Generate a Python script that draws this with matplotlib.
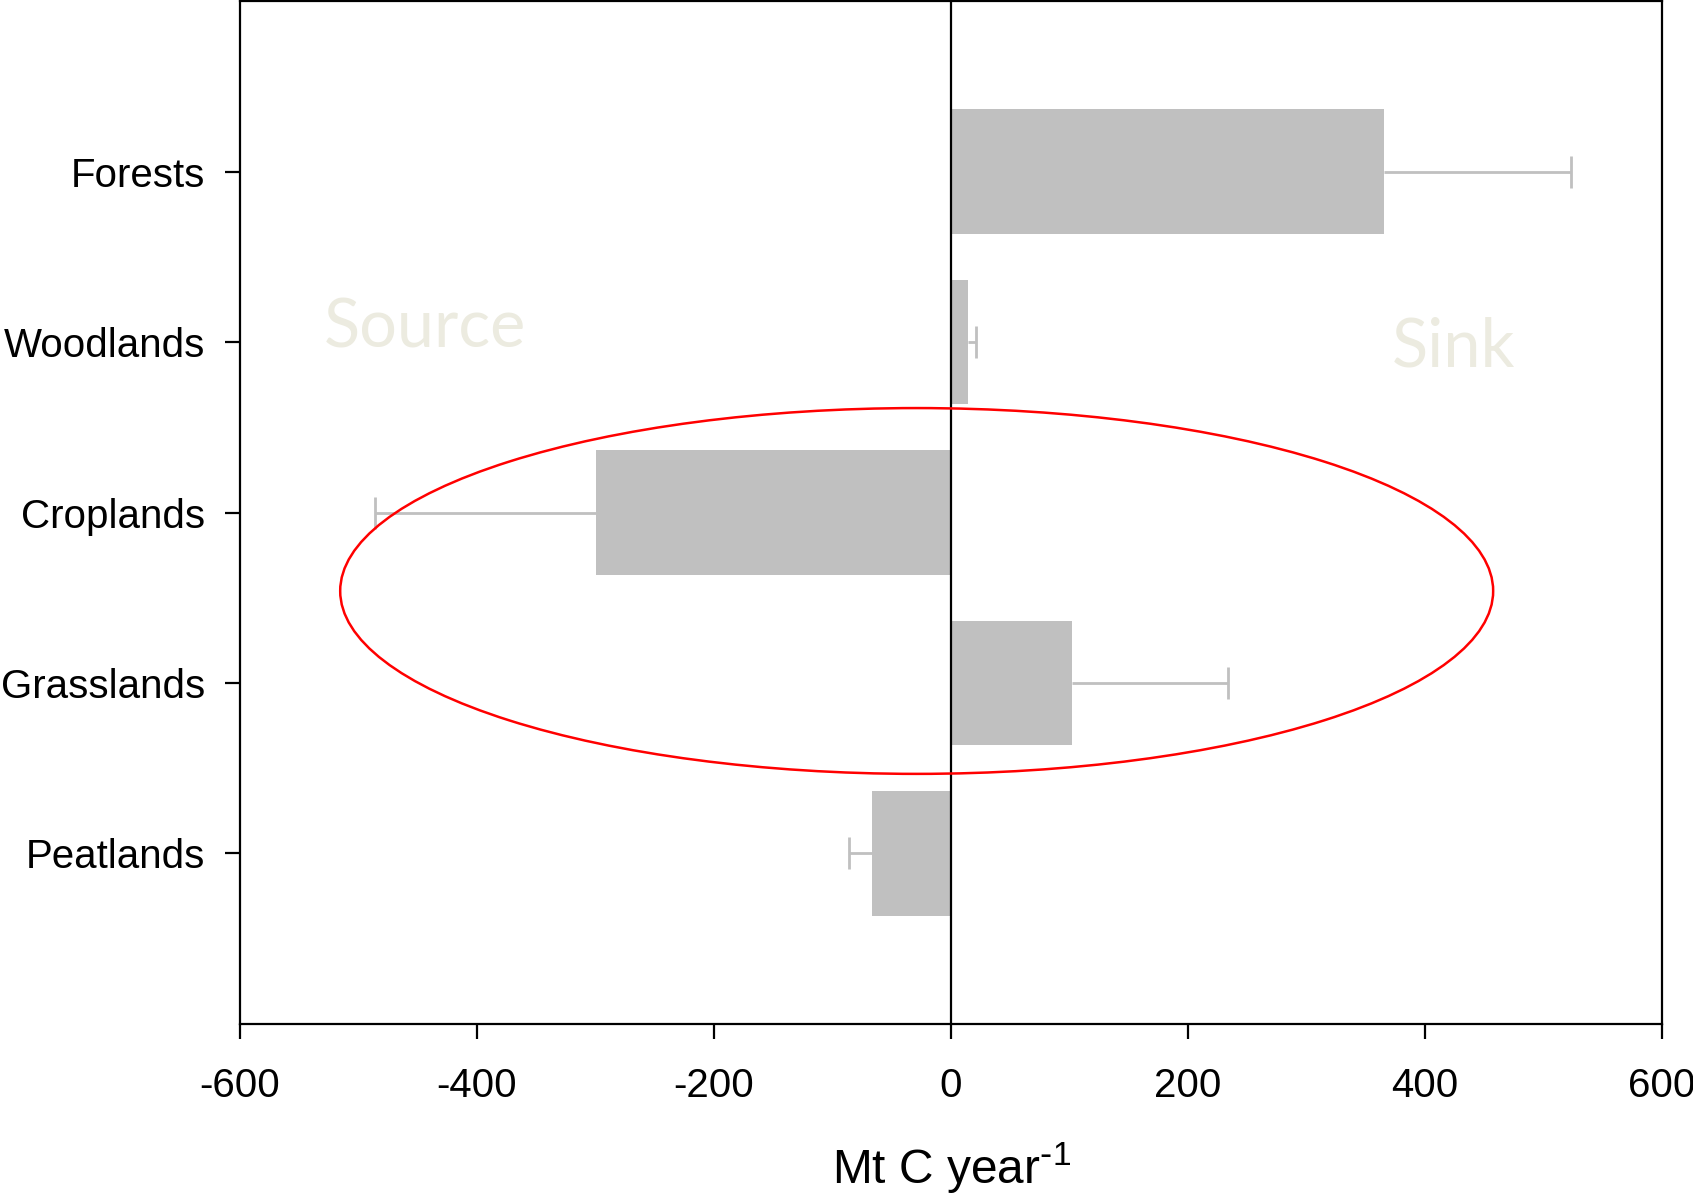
import matplotlib.pyplot as plt
import numpy as np
from matplotlib.patches import Ellipse

plt.rcParams['font.family'] = ['Liberation Sans', 'DejaVu Sans']
plt.rcParams['mathtext.default'] = 'regular'

# Data
categories = ['Forests', 'Woodlands', 'Croplands', 'Grasslands', 'Peatlands']
values = [365, 14, -300, 102, -67]
errors = [158, 7, 186, 132, 19]

ypos = np.arange(1, len(categories) + 1)

fig = plt.figure(figsize=(16.93, 11.98), dpi=100)
ax = fig.add_axes([0.1418, 0.1453, 0.8399, 0.8537])

ax.barh(ypos, values, height=0.73, color='#c0c0c0', zorder=2)

# one-sided error bars (outward only, cap at the outer end)
ends = [v + np.sign(v) * e for v, e in zip(values, errors)]
ax.hlines(ypos, values, ends, color='#c0c0c0', lw=2, zorder=1)
ax.plot(ends, ypos, ls='none', marker='|', ms=23, mew=2, color='#c0c0c0', zorder=1)

ax.axvline(0, color='black', lw=1.6, zorder=3)

# highlight ellipse
ax.add_patch(Ellipse((-29, 3.46), 973, 2.146, fill=False, edgecolor='red', lw=1.8, zorder=4))

# Source / Sink labels
ax.text(-444, 1.92, 'Source', color='#ecebe0', fontsize=48, ha='center', va='center',
        family=['Lato', 'DejaVu Sans'], zorder=0)
ax.text(424, 2.03, 'Sink', color='#ecebe0', fontsize=48, ha='center', va='center',
        family=['Lato', 'DejaVu Sans'], zorder=0)

ax.set_xlim(-600, 600)
ax.set_ylim(6, 0)
ax.set_xticks([-600, -400, -200, 0, 200, 400, 600])
ax.set_xticklabels(['-600', '-400', '-200', '0', '200', '400', '600'])
ax.set_yticks(ypos)
ax.set_yticklabels(categories)

ax.tick_params(axis='both', direction='out', length=11, width=1.6, labelsize=29)
ax.tick_params(axis='y', pad=14)
ax.tick_params(axis='x', pad=20)
for s in ax.spines.values():
    s.set_linewidth(1.6)

ax.set_xlabel(r'Mt C year$^{\text{-}1}$', fontsize=34.5, labelpad=26)

fig.savefig('out.png', dpi=100)
